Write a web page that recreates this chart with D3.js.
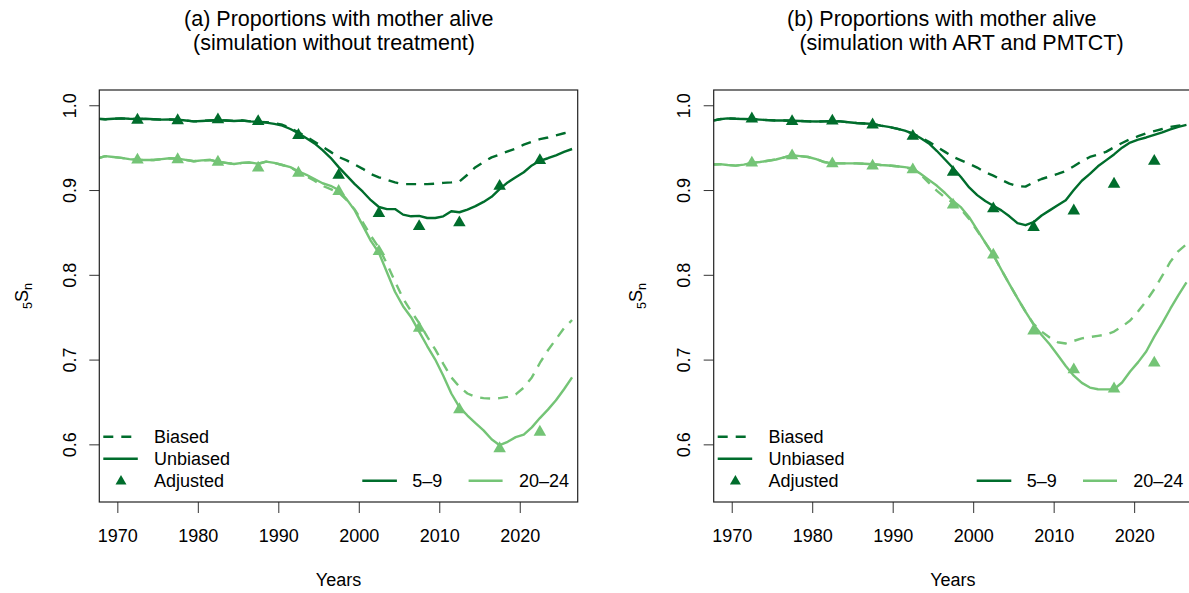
<!DOCTYPE html>
<html>
<head>
<meta charset="utf-8">
<script src="https://cdn.jsdelivr.net/npm/d3@7"></script>
<style>
  html, body { margin: 0; padding: 0; background: #fff; }
  svg { display: block; font-family: "Liberation Sans", Arial, Helvetica, sans-serif; }
</style>
</head>
<body>
<svg id="chart" width="1189" height="593"></svg>
<script>
// Annual values, mid-year 1967.5 ... 2026.5
const yearStart = 1967.5;
const years = d3.range(60).map(i => yearStart + i);

// Adjusted estimates at five-year mid-points
const adjYears = [1972.5, 1977.5, 1982.5, 1987.5, 1992.5, 1997.5, 2002.5, 2007.5, 2012.5, 2017.5, 2022.5];

// Panel (a): simulation without treatment
const a_unbiased_5_9 = [
  0.984, 0.9835, 0.984, 0.9845, 0.984, 0.9838, 0.984, 0.9835, 0.983, 0.9832,
  0.983, 0.982, 0.981, 0.9815, 0.982, 0.9825, 0.982, 0.9815, 0.982, 0.981,
  0.9805, 0.9795, 0.978, 0.976, 0.972, 0.967, 0.961, 0.955, 0.947, 0.938,
  0.927, 0.917, 0.907, 0.898, 0.888, 0.880, 0.8775, 0.8775, 0.871, 0.869,
  0.8695, 0.867, 0.867, 0.869, 0.875, 0.8738, 0.877, 0.881, 0.886, 0.892,
  0.901, 0.909, 0.915, 0.921, 0.929, 0.9345, 0.9375, 0.941, 0.945, 0.9484];
const a_biased_5_9 = [
  0.984, 0.9835, 0.984, 0.9845, 0.984, 0.9838, 0.984, 0.9835, 0.983, 0.9832,
  0.983, 0.982, 0.981, 0.9815, 0.982, 0.9825, 0.982, 0.9815, 0.982, 0.981,
  0.9805, 0.980, 0.979, 0.977, 0.973, 0.968, 0.963, 0.957, 0.951, 0.945,
  0.939, 0.935, 0.930, 0.925, 0.919, 0.915, 0.912, 0.909, 0.907, 0.907,
  0.907, 0.907, 0.9075, 0.9085, 0.909, 0.910, 0.918, 0.927, 0.933, 0.9385,
  0.942, 0.9455, 0.949, 0.9535, 0.957, 0.960, 0.962, 0.9645, 0.967, 0.969];
const a_unbiased_20_24 = [
  0.937, 0.940, 0.939, 0.938, 0.9365, 0.9355, 0.9355, 0.9355, 0.9365, 0.9375,
  0.937, 0.9355, 0.934, 0.935, 0.9355, 0.9335, 0.932, 0.9307, 0.932, 0.9325,
  0.931, 0.9335, 0.932, 0.9295, 0.927, 0.922, 0.918, 0.913, 0.908, 0.905,
  0.900, 0.889, 0.876, 0.858, 0.840, 0.826, 0.803, 0.780, 0.763, 0.750,
  0.733, 0.716, 0.700, 0.681, 0.660, 0.644, 0.634, 0.625, 0.6165, 0.606,
  0.599, 0.603, 0.6085, 0.6115, 0.620, 0.631, 0.641, 0.652, 0.665, 0.679];
const a_biased_20_24 = [
  0.937, 0.940, 0.939, 0.938, 0.9365, 0.9355, 0.9355, 0.9355, 0.9365, 0.9375,
  0.937, 0.9355, 0.934, 0.935, 0.9355, 0.9335, 0.932, 0.9307, 0.932, 0.9325,
  0.931, 0.9335, 0.932, 0.9295, 0.927, 0.921, 0.916, 0.911, 0.905, 0.901,
  0.897, 0.888, 0.877, 0.862, 0.846, 0.832, 0.813, 0.792, 0.772, 0.757,
  0.743, 0.727, 0.712, 0.695, 0.679, 0.668, 0.660, 0.656, 0.6545, 0.654,
  0.6545, 0.656, 0.659, 0.667, 0.679, 0.696, 0.711, 0.724, 0.737, 0.7467];
const a_adjusted_5_9 = [0.9825, 0.982, 0.983, 0.981, 0.9645, 0.9175, 0.8725, 0.857, 0.8615, 0.9045, 0.935];
const a_adjusted_20_24 = [0.9355, 0.936, 0.933, 0.926, 0.92, 0.8985, 0.8275, 0.737, 0.641, 0.595, 0.6145];

// Panel (b): simulation with ART and PMTCT
const b_unbiased_5_9 = [
  0.9815, 0.9835, 0.9845, 0.984, 0.9838, 0.9835, 0.983, 0.9825, 0.982, 0.982,
  0.9818, 0.9815, 0.981, 0.9808, 0.981, 0.9812, 0.981, 0.980, 0.979, 0.9785,
  0.978, 0.976, 0.9745, 0.9725, 0.970, 0.9665, 0.961, 0.955, 0.946, 0.936,
  0.926, 0.915, 0.903, 0.894, 0.887, 0.8815, 0.876, 0.869, 0.861, 0.8585,
  0.862, 0.870, 0.876, 0.882, 0.888, 0.900, 0.911, 0.919, 0.928, 0.935,
  0.942, 0.950, 0.956, 0.9595, 0.962, 0.965, 0.968, 0.9715, 0.9745, 0.9768];
const b_biased_5_9 = [
  0.9815, 0.9835, 0.9845, 0.984, 0.9838, 0.9835, 0.983, 0.9825, 0.982, 0.982,
  0.9818, 0.9815, 0.981, 0.9808, 0.981, 0.9812, 0.981, 0.980, 0.979, 0.9785,
  0.978, 0.976, 0.9745, 0.9725, 0.970, 0.9665, 0.962, 0.957, 0.951, 0.945,
  0.939, 0.935, 0.931, 0.9265, 0.921, 0.917, 0.912, 0.9075, 0.9045, 0.904,
  0.909, 0.913, 0.916, 0.919, 0.9225, 0.928, 0.934, 0.939, 0.942, 0.945,
  0.9505, 0.9555, 0.960, 0.9635, 0.967, 0.9695, 0.972, 0.9745, 0.976, 0.977];
const b_unbiased_20_24 = [
  0.930, 0.9305, 0.9295, 0.9288, 0.930, 0.932, 0.933, 0.9345, 0.936, 0.9385,
  0.941, 0.940, 0.939, 0.9365, 0.933, 0.9315, 0.9315, 0.9315, 0.9315, 0.931,
  0.9305, 0.9295, 0.929, 0.928, 0.927, 0.9255, 0.919, 0.912, 0.905, 0.8965,
  0.887, 0.8795, 0.868, 0.853, 0.838, 0.8235, 0.806, 0.789, 0.7725, 0.7565,
  0.7415, 0.729, 0.718, 0.7055, 0.6925, 0.681, 0.6725, 0.667, 0.665, 0.6648,
  0.665, 0.673, 0.686, 0.697, 0.7095, 0.727, 0.743, 0.760, 0.776, 0.791];
const b_biased_20_24 = [
  0.930, 0.9305, 0.9295, 0.9288, 0.930, 0.932, 0.933, 0.9345, 0.936, 0.9385,
  0.941, 0.940, 0.939, 0.9365, 0.933, 0.9315, 0.9315, 0.9315, 0.9315, 0.931,
  0.9305, 0.9295, 0.929, 0.928, 0.927, 0.924, 0.918, 0.9085, 0.899, 0.891,
  0.885, 0.877, 0.866, 0.852, 0.838, 0.8235, 0.806, 0.789, 0.7725, 0.7565,
  0.742, 0.733, 0.726, 0.7205, 0.719, 0.722, 0.725, 0.7265, 0.728, 0.7295,
  0.733, 0.739, 0.746, 0.757, 0.769, 0.783, 0.799, 0.8155, 0.828, 0.836];
const b_adjusted_5_9 = [0.984, 0.981, 0.9815, 0.977, 0.9635, 0.921, 0.878, 0.856, 0.8755, 0.907, 0.934];
const b_adjusted_20_24 = [0.932, 0.9405, 0.931, 0.9285, 0.924, 0.8825, 0.8235, 0.734, 0.688, 0.6655, 0.696];

// Axes and labels
const xTicks = [1970, 1980, 1990, 2000, 2010, 2020];
const yTicks = [0.6, 0.7, 0.8, 0.9, 1.0];
const yTickLabels = ["0.6", "0.7", "0.8", "0.9", "1.0"];
const titlesA = ["(a) Proportions with mother alive", " (simulation without treatment)"];
const titlesB = ["(b) Proportions with mother alive", " (simulation with ART and PMTCT)"];
const lineTypeLabels = ["Biased", "Unbiased", "Adjusted"];
const ageGroups = ["5\u20139", "20\u201324"];

const DARK = "#006d2c";
const LIGHT = "#74c476";

const svg = d3.select("#chart");
svg.append("rect").attr("width", 1189).attr("height", 593).attr("fill", "#fff");

const boxW = 478.4, boxTop = 90, boxBottom = 502;

function drawPanel(id, left, titles, titleCenters, series) {
  const x = d3.scaleLinear().domain([1967.76, 2027.2]).range([left, left + boxW]);
  const y = d3.scaleLinear().domain([0.532, 1.018]).range([boxBottom, boxTop]);
  const g = svg.append("g");

  // two-line panel title
  titles.forEach((t, i) => {
    g.append("text")
      .attr("x", titleCenters[i]).attr("y", i === 0 ? 26 : 50)
      .attr("text-anchor", "middle")
      .attr("font-size", 21.5).attr("fill", "#000")
      .style("white-space", "pre")
      .text(t);
  });

  g.append("clipPath").attr("id", "clip-" + id)
    .append("rect").attr("x", left).attr("y", boxTop).attr("width", boxW).attr("height", boxBottom - boxTop);

  const plot = g.append("g").attr("clip-path", `url(#clip-${id})`);
  const line = d3.line().x((d, i) => x(years[i])).y(d => y(d)).defined(d => d != null);

  const paths = [
    { v: series.biased59, c: DARK, dash: "10,8" },
    { v: series.unbiased59, c: DARK, dash: null },
    { v: series.biased2024, c: LIGHT, dash: "10,8" },
    { v: series.unbiased2024, c: LIGHT, dash: null }
  ];
  paths.forEach(p => {
    plot.append("path")
      .attr("d", line(p.v))
      .attr("fill", "none")
      .attr("stroke", p.c)
      .attr("stroke-width", 2.4)
      .attr("stroke-linejoin", "round")
      .attr("stroke-dasharray", p.dash);
  });

  const tri = d3.symbol().type(d3.symbolTriangle).size(68);
  [[series.adj59, DARK], [series.adj2024, LIGHT]].forEach(([vals, col]) => {
    plot.selectAll(null).data(vals).enter().append("path")
      .attr("d", tri)
      .attr("transform", (d, i) => `translate(${x(adjYears[i])},${y(d)})`)
      .attr("fill", col);
  });

  // x axis
  const xAxis = g.append("g").attr("transform", `translate(0,${boxBottom})`)
    .call(d3.axisBottom(x).tickValues(xTicks).tickFormat(d3.format("d")).tickSize(11).tickPadding(16.7));
  xAxis.select(".domain").remove();
  xAxis.selectAll(".tick line").attr("stroke", "#333").attr("stroke-width", 1);
  xAxis.selectAll(".tick text").attr("font-size", 18).attr("fill", "#000")
    .attr("font-family", "Liberation Sans, Arial, sans-serif");

  // y axis with rotated labels
  const yAxis = g.append("g").attr("transform", `translate(${left},0)`)
    .call(d3.axisLeft(y).tickValues(yTicks).tickFormat((d, i) => yTickLabels[i]).tickSize(10));
  yAxis.select(".domain").remove();
  yAxis.selectAll(".tick line").attr("stroke", "#333").attr("stroke-width", 1);
  yAxis.selectAll(".tick text")
    .attr("x", null).attr("dy", null)
    .attr("text-anchor", "middle")
    .attr("transform", "translate(-23.3,0) rotate(-90)")
    .attr("font-size", 18).attr("fill", "#000")
    .attr("font-family", "Liberation Sans, Arial, sans-serif");

  // plot frame
  g.append("rect")
    .attr("x", left).attr("y", boxTop).attr("width", boxW).attr("height", boxBottom - boxTop)
    .attr("fill", "none").attr("stroke", "#222").attr("stroke-width", 1.2);

  // axis titles
  g.append("text")
    .attr("x", left + boxW / 2).attr("y", 586)
    .attr("text-anchor", "middle").attr("font-size", 18).attr("fill", "#000")
    .text("Years");

  const yl = g.append("text")
    .attr("transform", `translate(${left - 71.5},296) rotate(-90)`)
    .attr("text-anchor", "middle").attr("font-size", 18).attr("fill", "#000");
  yl.append("tspan").attr("font-size", 12.6).attr("dy", 4).text("5");
  yl.append("tspan").attr("dy", -4).text("S");
  yl.append("tspan").attr("font-size", 12.6).attr("dy", 4).text("n");

  // legend: line types
  const legRows = [436.7, 458.7, 480.3];
  const lg = g.append("g");
  lg.append("line").attr("x1", left + 4).attr("x2", left + 33).attr("y1", legRows[0]).attr("y2", legRows[0])
    .attr("stroke", DARK).attr("stroke-width", 2.4).attr("stroke-dasharray", "10,8");
  lg.append("line").attr("x1", left + 4).attr("x2", left + 38.5).attr("y1", legRows[1]).attr("y2", legRows[1])
    .attr("stroke", DARK).attr("stroke-width", 2.4);
  lg.append("path").attr("d", d3.symbol().type(d3.symbolTriangle).size(52))
    .attr("transform", `translate(${left + 21.7},${legRows[2] + 1})`).attr("fill", DARK);
  lineTypeLabels.forEach((t, i) => {
    lg.append("text").attr("x", left + 54.7).attr("y", legRows[i] + 6.4)
      .attr("font-size", 18).attr("fill", "#000").text(t);
  });

  // legend: age groups
  const ag = g.append("g");
  const ageLines = [[263, 297.6, 313, DARK], [369.3, 403.3, 419.6, LIGHT]];
  ageGroups.forEach((t, i) => {
    const [x1, x2, tx, col] = ageLines[i];
    ag.append("line").attr("x1", left + x1).attr("x2", left + x2)
      .attr("y1", 480.7).attr("y2", 480.7).attr("stroke", col).attr("stroke-width", 2.4);
    ag.append("text").attr("x", left + tx).attr("y", 480.7 + 6.4)
      .attr("font-size", 18).attr("fill", "#000").text(t);
  });
}

drawPanel("a", 99.3, titlesA, [338.8, 331], {
  unbiased59: a_unbiased_5_9, biased59: a_biased_5_9,
  unbiased2024: a_unbiased_20_24, biased2024: a_biased_20_24,
  adj59: a_adjusted_5_9, adj2024: a_adjusted_20_24
});
drawPanel("b", 713.7, titlesB, [941.8, 958.5], {
  unbiased59: b_unbiased_5_9, biased59: b_biased_5_9,
  unbiased2024: b_unbiased_20_24, biased2024: b_biased_20_24,
  adj59: b_adjusted_5_9, adj2024: b_adjusted_20_24
});
</script>
</body>
</html>
